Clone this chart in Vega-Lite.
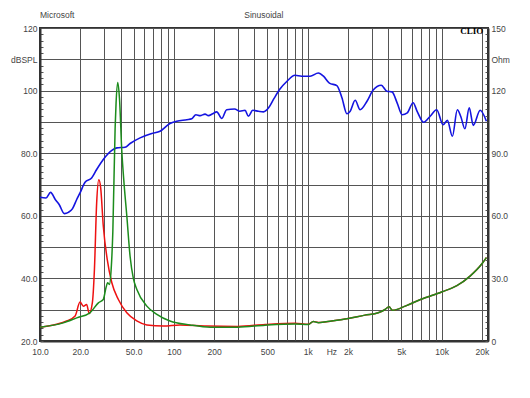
{
  "$schema": "https://vega.github.io/schema/vega-lite/v6.json",
  "width": 448,
  "height": 313,
  "autosize": "none",
  "padding": {"left": 40, "top": 28, "right": 42, "bottom": 57},
  "background": "white",
  "config": {
    "font": "Liberation Sans",
    "view": {"stroke": "#333", "strokeWidth": 2},
    "axis": {
      "labelFont": "Liberation Sans",
      "labelFontSize": 8.5,
      "labelColor": "#444",
      "domainColor": "#333",
      "domainWidth": 2,
      "gridColor": "#555",
      "gridWidth": 1,
      "gridOpacity": 1,
      "tickColor": "#555",
      "title": null,
      "labelOverlap": false,
      "labelFlush": false,
      "labelBound": false
    }
  },
  "layer": [
    {
      "encoding": {
        "x": {
          "field": "f", "type": "quantitative",
          "scale": {"type": "log", "domain": [10, 22200], "nice": false},
          "axis": {
            "values": [10, 20, 30, 40, 50, 60, 70, 80, 90, 100, 200, 300, 400, 500, 600, 700, 800, 900, 1000, 1500, 2000, 3000, 4000, 5000, 6000, 7000, 8000, 9000, 10000, 20000],
            "ticks": false,
            "labelPadding": 6,
            "gridColor": {"condition": {"test": "datum.value == 1500", "value": "transparent"}, "value": "#555"},
            "labelExpr": "datum.value==10?'10.0':datum.value==20?'20.0':datum.value==50?'50.0':datum.value==100?'100':datum.value==200?'200':datum.value==500?'500':datum.value==1000?'1k':datum.value==1500?'Hz':datum.value==2000?'2k':datum.value==5000?'5k':datum.value==10000?'10k':datum.value==20000?'20k':''"
          }
        },
        "y": {
          "field": "spl", "type": "quantitative",
          "scale": {"domain": [20, 120], "nice": false, "zero": false},
          "axis": {
            "orient": "left",
            "values": [20, 22, 24, 26, 28, 30, 32, 34, 36, 38, 40, 42, 44, 46, 48, 50, 52, 54, 56, 58, 60, 62, 64, 66, 68, 70, 72, 74, 76, 78, 80, 82, 84, 86, 88, 90, 92, 94, 96, 98, 100, 102, 104, 106, 108, 110, 112, 114, 116, 118, 120],
            "tickSize": -3,
            "labelPadding": 6,
            "gridColor": {"condition": {"test": "datum.value % 10 != 0", "value": "transparent"}, "value": "#555"},
            "labelExpr": "datum.value==110?'dBSPL':(datum.value==120||datum.value==100)?format(datum.value,'d'):(datum.value%20==0?format(datum.value,'.1f'):'')"
          }
        }
      },
      "layer": [
        {
          "data": {"values": [
            {"f": 10, "spl": 65.9}, {"f": 11.1, "spl": 65.7}, {"f": 12.0, "spl": 67.5}, {"f": 13.0, "spl": 65.2},
            {"f": 13.9, "spl": 63.6}, {"f": 15.2, "spl": 60.7}, {"f": 16.3, "spl": 61.1}, {"f": 17.5, "spl": 62.3},
            {"f": 18.8, "spl": 65.2}, {"f": 19.9, "spl": 67.3}, {"f": 21.7, "spl": 70.7}, {"f": 24.3, "spl": 72.1},
            {"f": 26.5, "spl": 74.8}, {"f": 29.7, "spl": 78.0}, {"f": 34.4, "spl": 80.9}, {"f": 37.5, "spl": 81.7},
            {"f": 43.2, "spl": 81.9}, {"f": 47.1, "spl": 83.1}, {"f": 55.9, "spl": 84.9}, {"f": 68.4, "spl": 86.3},
            {"f": 78.8, "spl": 87.0}, {"f": 93.5, "spl": 89.5}, {"f": 105, "spl": 90.2}, {"f": 125, "spl": 90.7},
            {"f": 136, "spl": 91.0}, {"f": 146, "spl": 92.3}, {"f": 157, "spl": 92.0}, {"f": 171, "spl": 92.5},
            {"f": 181, "spl": 92.0}, {"f": 195, "spl": 92.6}, {"f": 209, "spl": 93.2}, {"f": 228, "spl": 91.1},
            {"f": 248, "spl": 93.9}, {"f": 284, "spl": 94.1}, {"f": 311, "spl": 93.4}, {"f": 340, "spl": 93.7},
            {"f": 360, "spl": 91.8}, {"f": 388, "spl": 93.7}, {"f": 428, "spl": 93.4}, {"f": 467, "spl": 93.2},
            {"f": 510, "spl": 94.5}, {"f": 560, "spl": 97.5}, {"f": 620, "spl": 100.5}, {"f": 700, "spl": 103.0},
            {"f": 803, "spl": 104.9}, {"f": 901, "spl": 104.6}, {"f": 1041, "spl": 104.6}, {"f": 1200, "spl": 105.6},
            {"f": 1311, "spl": 104.6}, {"f": 1450, "spl": 102.4}, {"f": 1650, "spl": 101.6}, {"f": 1800, "spl": 97.7},
            {"f": 1960, "spl": 92.6}, {"f": 2075, "spl": 93.4}, {"f": 2260, "spl": 96.9}, {"f": 2460, "spl": 93.9},
            {"f": 2770, "spl": 96.6}, {"f": 3070, "spl": 100.1}, {"f": 3540, "spl": 101.7}, {"f": 3900, "spl": 99.8},
            {"f": 4260, "spl": 99.6}, {"f": 4650, "spl": 96.1}, {"f": 5070, "spl": 92.3}, {"f": 5540, "spl": 92.9},
            {"f": 6120, "spl": 96.1}, {"f": 6560, "spl": 93.4}, {"f": 7340, "spl": 89.9}, {"f": 8210, "spl": 91.8},
            {"f": 9180, "spl": 93.9}, {"f": 10260, "spl": 89.1}, {"f": 11040, "spl": 90.5}, {"f": 12030, "spl": 85.4},
            {"f": 13100, "spl": 93.9}, {"f": 13880, "spl": 91.8}, {"f": 14920, "spl": 87.8}, {"f": 16070, "spl": 94.5},
            {"f": 17240, "spl": 88.9}, {"f": 19400, "spl": 93.7}, {"f": 21600, "spl": 90.2}
          ]},
          "mark": {"type": "line", "color": "#1414e0", "strokeWidth": 1.6, "interpolate": "monotone"}
        },
        {
          "data": {"values": [{"f": 10, "spl": 124.3, "label": "Microsoft"}]},
          "mark": {"type": "text", "align": "left", "baseline": "middle", "fontSize": 8.5, "color": "#444", "font": "Liberation Sans"},
          "encoding": {"text": {"field": "label"}}
        },
        {
          "data": {"values": [{"f": 470, "spl": 124.3, "label": "Sinusoidal"}]},
          "mark": {"type": "text", "align": "center", "baseline": "middle", "fontSize": 8.5, "color": "#444", "font": "Liberation Sans"},
          "encoding": {"text": {"field": "label"}}
        },
        {
          "data": {"values": [{"f": 20500, "spl": 118.9, "label": "CLIO"}]},
          "mark": {"type": "text", "align": "right", "baseline": "middle", "fontSize": 9, "fontWeight": "bold", "color": "#000", "font": "Liberation Serif"},
          "encoding": {"text": {"field": "label"}}
        }
      ]
    },
    {
      "data": {"values": [
        {"f": 10, "ohm": 6.6, "curve": "Impedance A"}, {"f": 13.3, "ohm": 8.0, "curve": "Impedance A"},
        {"f": 15.8, "ohm": 9.6, "curve": "Impedance A"}, {"f": 18.3, "ohm": 12.0, "curve": "Impedance A"},
        {"f": 19.9, "ohm": 18.7, "curve": "Impedance A"}, {"f": 21.1, "ohm": 16.7, "curve": "Impedance A"},
        {"f": 22.3, "ohm": 17.5, "curve": "Impedance A"}, {"f": 23.3, "ohm": 13.2, "curve": "Impedance A"},
        {"f": 24.6, "ohm": 18.3, "curve": "Impedance A"}, {"f": 25.5, "ohm": 34.3, "curve": "Impedance A"},
        {"f": 26.5, "ohm": 66.2, "curve": "Impedance A"}, {"f": 27.5, "ohm": 77.3, "curve": "Impedance A"},
        {"f": 28.4, "ohm": 73.4, "curve": "Impedance A"}, {"f": 29.7, "ohm": 55.1, "curve": "Impedance A"},
        {"f": 31.8, "ohm": 39.0, "curve": "Impedance A"}, {"f": 34.4, "ohm": 27.9, "curve": "Impedance A"},
        {"f": 38.5, "ohm": 19.9, "curve": "Impedance A"}, {"f": 44.5, "ohm": 13.5, "curve": "Impedance A"},
        {"f": 52.8, "ohm": 9.6, "curve": "Impedance A"}, {"f": 62.8, "ohm": 7.7, "curve": "Impedance A"},
        {"f": 83.6, "ohm": 7.2, "curve": "Impedance A"}, {"f": 111, "ohm": 7.7, "curve": "Impedance A"},
        {"f": 176, "ohm": 7.2, "curve": "Impedance A"}, {"f": 300, "ohm": 7.0, "curve": "Impedance A"},
        {"f": 480, "ohm": 7.9, "curve": "Impedance A"}, {"f": 803, "ohm": 8.5, "curve": "Impedance A"},
        {"f": 1010, "ohm": 8.0, "curve": "Impedance A"}, {"f": 1100, "ohm": 9.4, "curve": "Impedance A"},
        {"f": 1200, "ohm": 8.9, "curve": "Impedance A"}, {"f": 1510, "ohm": 9.6, "curve": "Impedance A"},
        {"f": 2010, "ohm": 10.8, "curve": "Impedance A"}, {"f": 2670, "ohm": 12.4, "curve": "Impedance A"},
        {"f": 3360, "ohm": 13.5, "curve": "Impedance A"}, {"f": 3780, "ohm": 15.1, "curve": "Impedance A"},
        {"f": 4050, "ohm": 16.4, "curve": "Impedance A"}, {"f": 4290, "ohm": 14.7, "curve": "Impedance A"},
        {"f": 5350, "ohm": 16.7, "curve": "Impedance A"}, {"f": 6950, "ohm": 19.9, "curve": "Impedance A"},
        {"f": 10000, "ohm": 23.5, "curve": "Impedance A"}, {"f": 13000, "ohm": 26.5, "curve": "Impedance A"},
        {"f": 16300, "ohm": 31.1, "curve": "Impedance A"}, {"f": 20000, "ohm": 37.0, "curve": "Impedance A"},
        {"f": 21600, "ohm": 40.0, "curve": "Impedance A"},
        {"f": 10, "ohm": 6.6, "curve": "Impedance B"}, {"f": 14.9, "ohm": 8.7, "curve": "Impedance B"},
        {"f": 18.8, "ohm": 11.1, "curve": "Impedance B"}, {"f": 23.6, "ohm": 13.5, "curve": "Impedance B"},
        {"f": 27.3, "ohm": 18.3, "curve": "Impedance B"}, {"f": 29.7, "ohm": 19.9, "curve": "Impedance B"},
        {"f": 31.1, "ohm": 25.5, "curve": "Impedance B"}, {"f": 32.0, "ohm": 27.9, "curve": "Impedance B"},
        {"f": 33.0, "ohm": 27.1, "curve": "Impedance B"}, {"f": 34.0, "ohm": 34.3, "curve": "Impedance B"},
        {"f": 35.0, "ohm": 52.5, "curve": "Impedance B"}, {"f": 36.4, "ohm": 102.0, "curve": "Impedance B"},
        {"f": 37.0, "ohm": 114.0, "curve": "Impedance B"}, {"f": 38.1, "ohm": 123.9, "curve": "Impedance B"},
        {"f": 39.3, "ohm": 115.5, "curve": "Impedance B"}, {"f": 40.8, "ohm": 91.5, "curve": "Impedance B"},
        {"f": 42.5, "ohm": 75.0, "curve": "Impedance B"}, {"f": 44.5, "ohm": 60.0, "curve": "Impedance B"},
        {"f": 47.1, "ohm": 40.5, "curve": "Impedance B"}, {"f": 49.8, "ohm": 30.0, "curve": "Impedance B"},
        {"f": 52.8, "ohm": 24.8, "curve": "Impedance B"}, {"f": 62.8, "ohm": 16.7, "curve": "Impedance B"},
        {"f": 74.6, "ohm": 12.8, "curve": "Impedance B"}, {"f": 93.5, "ohm": 9.6, "curve": "Impedance B"},
        {"f": 132, "ohm": 7.7, "curve": "Impedance B"}, {"f": 187, "ohm": 6.6, "curve": "Impedance B"},
        {"f": 300, "ohm": 6.6, "curve": "Impedance B"}, {"f": 480, "ohm": 7.6, "curve": "Impedance B"},
        {"f": 803, "ohm": 8.2, "curve": "Impedance B"}, {"f": 1010, "ohm": 7.9, "curve": "Impedance B"},
        {"f": 1100, "ohm": 9.3, "curve": "Impedance B"}, {"f": 1200, "ohm": 8.8, "curve": "Impedance B"},
        {"f": 1510, "ohm": 9.6, "curve": "Impedance B"}, {"f": 2010, "ohm": 10.8, "curve": "Impedance B"},
        {"f": 2670, "ohm": 12.4, "curve": "Impedance B"}, {"f": 3360, "ohm": 13.5, "curve": "Impedance B"},
        {"f": 3780, "ohm": 15.1, "curve": "Impedance B"}, {"f": 4050, "ohm": 16.4, "curve": "Impedance B"},
        {"f": 4290, "ohm": 14.7, "curve": "Impedance B"}, {"f": 5350, "ohm": 16.7, "curve": "Impedance B"},
        {"f": 6950, "ohm": 19.9, "curve": "Impedance B"}, {"f": 10000, "ohm": 23.5, "curve": "Impedance B"},
        {"f": 13000, "ohm": 26.5, "curve": "Impedance B"}, {"f": 16300, "ohm": 31.1, "curve": "Impedance B"},
        {"f": 20000, "ohm": 37.0, "curve": "Impedance B"}, {"f": 21600, "ohm": 40.0, "curve": "Impedance B"}
      ]},
      "mark": {"type": "line", "strokeWidth": 1.5, "interpolate": "monotone"},
      "encoding": {
        "x": {"field": "f", "type": "quantitative"},
        "y": {
          "field": "ohm", "type": "quantitative",
          "scale": {"domain": [0, 150], "nice": false},
          "axis": {
            "orient": "right",
            "values": [0, 3, 6, 9, 12, 15, 18, 21, 24, 27, 30, 33, 36, 39, 42, 45, 48, 51, 54, 57, 60, 63, 66, 69, 72, 75, 78, 81, 84, 87, 90, 93, 96, 99, 102, 105, 108, 111, 114, 117, 120, 123, 126, 129, 132, 135, 138, 141, 144, 147, 150],
            "grid": false,
            "tickSize": -3,
            "labelPadding": 6,
            "labelExpr": "datum.value==135?'Ohm':datum.value==0?'0':(datum.value==120||datum.value==150)?format(datum.value,'d'):(datum.value%30==0?format(datum.value,'.1f'):'')"
          }
        },
        "color": {
          "field": "curve", "type": "nominal",
          "scale": {"domain": ["Impedance A", "Impedance B"], "range": ["#ee1111", "#1c8c1c"]},
          "legend": null
        }
      }
    }
  ],
  "resolve": {"scale": {"y": "independent"}}
}
